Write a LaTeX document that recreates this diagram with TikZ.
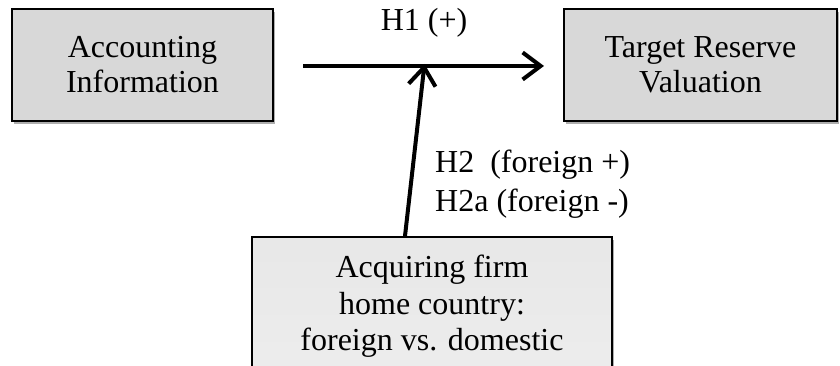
\documentclass[tikz,border=0pt]{standalone}
\usepackage{fontspec}
\setmainfont{Liberation Serif}
\usetikzlibrary{arrows.meta,shadows}
\definecolor{boxgray}{RGB}{216,216,216}
\tikzset{
  box/.style={draw=black, line width=2.2pt, fill=boxgray, align=center,
    inner sep=0pt, font=\fontsize{32}{35}\selectfont,
    drop shadow={shadow xshift=2pt, shadow yshift=-3pt, opacity=0.45, fill=black!70}},
  conn/.style={line width=4pt, -{Straight Barb[length=18pt, width=27pt, line width=4pt]}},
  lbl/.style={font=\fontsize{32}{39}\selectfont, inner sep=0pt}
}
\begin{document}
\begin{tikzpicture}[x=1pt,y=1pt]
\useasboundingbox (0,0) rectangle (840,366);
\node[box, minimum width=261pt, minimum height=112pt] (acc) at (142.5,301) {Accounting\\Information};
\node[box, minimum width=273pt, minimum height=112pt] (trv) at (700.5,301) {Target Reserve\\Valuation};
\node[box, minimum width=360pt, minimum height=160pt, top color=boxgray!60, bottom color=boxgray!110!black, anchor=north] (acq) at (432,130) {};
\node[font=\fontsize{32}{36.5}\selectfont, align=center, anchor=north, inner sep=0pt] (acqt) at (432,111) {Acquiring firm\\home country:\\foreign vs. domestic};
\coordinate (h1s) at (303,300);
\coordinate (h1e) at (544,300);
\coordinate (h2s) at (405,130);
\coordinate (h2e) at (424.5,302);
\draw[conn] (h1s) -- (h1e);
\draw[conn] (h2s) -- (h2e);
\node[lbl] (h1) at (424,343) {H1 (+)};
\node[lbl, align=left, anchor=north west] (h2) at (435,216) {H2\ \ (foreign +)\\H2a (foreign -)};
\end{tikzpicture}
\end{document}
